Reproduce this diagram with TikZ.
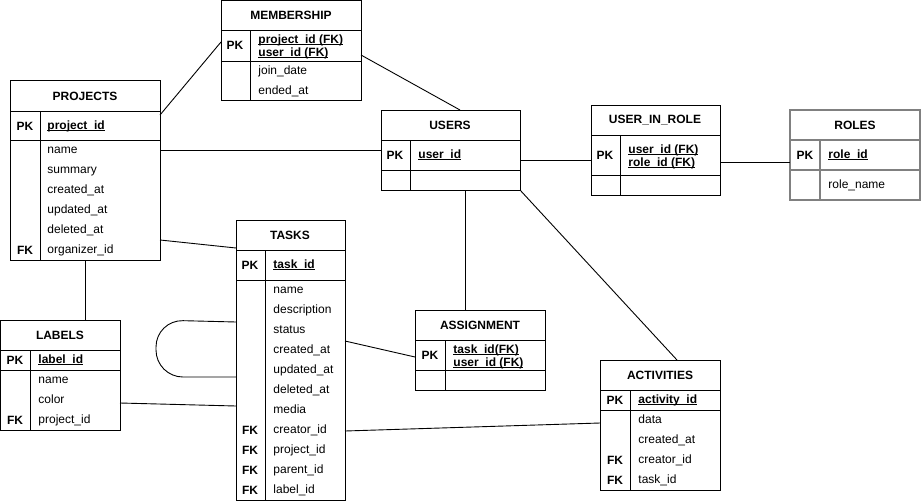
\documentclass[tikz,border=0pt]{standalone}
\usepackage{fontspec}
\setmainfont{Liberation Sans}
\newcommand\pkey[1]{\underline{\smash{#1}}}

\begin{document}
\begin{tikzpicture}[x=1pt,y=-1pt,line width=0.9pt]
  \tikzset{every node/.style={font=\fontsize{12}{13}\selectfont, inner sep=0pt},
    tbl/.style={draw, anchor=north west, outer sep=0pt},
    ttl/.style={font=\fontsize{12}{13}\selectfont\bfseries},
    key/.style={font=\fontsize{12}{13}\selectfont\bfseries},
    fld/.style={anchor=west, text height=9pt, text depth=3pt},
    pkf/.style={fld, font=\fontsize{12}{13}\selectfont\bfseries},
    pk2/.style={anchor=base west, align=left, font=\fontsize{12}{13}\selectfont\bfseries}}

  \useasboundingbox (0,0) rectangle (921,501);
  \fill[white] (0,0) rectangle (921,501);

  % membership
  \node[tbl, minimum width=140pt, minimum height=100pt] (membership) at (221,0) {};
  \draw (membership.west |- 0,30) -- (membership.east |- 0,30)
        (membership.west |- 0,61) -- (membership.east |- 0,61)
        (250,30) -- (membership.south -| 250,0);
  \node[ttl] (membership-t) at (291,15) {MEMBERSHIP};
  \node[key] (membership-k) at (235,45) {PK};
  \node[pk2] (membership-pk) at (258,56) {\pkey{project\_id (FK)}\\\pkey{user\_id (FK)}};
  \node[fld] (membership-1) at (258,71) {join\_date};
  \node[fld] (membership-2) at (258,91) {ended\_at};

  % projects
  \node[tbl, minimum width=150pt, minimum height=180pt] (projects) at (10,80) {};
  \draw (projects.west |- 0,111) -- (projects.east |- 0,111)
        (projects.west |- 0,140) -- (projects.east |- 0,140)
        (40,111) -- (projects.south -| 40,0);
  \node[ttl] (projects-t) at (85,96) {PROJECTS};
  \node[key] (projects-k) at (25,126) {PK};
  \node[pkf] (projects-pk) at (47,126) {\pkey{project\_id}};
  \foreach \f [count=\i] in {name,summary,created\_at,updated\_at,deleted\_at,organizer\_id}
    \node[fld] (projects-\i) at (47,130+20*\i) {\f};
  \node[key] (projects-fk) at (25,250) {FK};

  % users
  \node[tbl, minimum width=139pt, minimum height=80pt] (users) at (381,110) {};
  \draw (users.west |- 0,140) -- (users.east |- 0,140)
        (users.west |- 0,170) -- (users.east |- 0,170)
        (410,140) -- (users.south -| 410,0);
  \node[ttl] (users-t) at (450,125) {USERS};
  \node[key] (users-k) at (395,155) {PK};
  \node[pkf] (users-pk) at (418,155) {\pkey{user\_id}};

  % user_in_role
  \node[tbl, minimum width=129pt, minimum height=90pt] (userinrole) at (591,105) {};
  \draw (userinrole.west |- 0,135) -- (userinrole.east |- 0,135)
        (userinrole.west |- 0,175) -- (userinrole.east |- 0,175)
        (620,135) -- (userinrole.south -| 620,0);
  \node[ttl] (userinrole-t) at (655,120) {USER\_IN\_ROLE};
  \node[key] (userinrole-k) at (605,155) {PK};
  \node[pk2] (userinrole-pk) at (628,166) {\pkey{user\_id (FK)}\\\pkey{role\_id (FK)}};

  % roles
  \node[tbl, draw=gray, line width=1.5pt, minimum width=130pt, minimum height=90pt] (roles) at (790,110) {};
  \draw[gray, line width=1.5pt] (roles.west |- 0,140) -- (roles.east |- 0,140)
        (roles.west |- 0,170) -- (roles.east |- 0,170)
        (820,140) -- (roles.south -| 820,0);
  \node[ttl] (roles-t) at (855,125) {ROLES};
  \node[key] (roles-k) at (805,155) {PK};
  \node[pkf] (roles-pk) at (828,155) {\pkey{role\_id}};
  \node[fld] (roles-1) at (828,185) {role\_name};

  % tasks
  \node[tbl, minimum width=109pt, minimum height=280pt] (tasks) at (236,220) {};
  \draw (tasks.west |- 0,250) -- (tasks.east |- 0,250)
        (tasks.west |- 0,280) -- (tasks.east |- 0,280)
        (265,250) -- (tasks.south -| 265,0);
  \node[ttl] (tasks-t) at (290,235) {TASKS};
  \node[key] (tasks-k) at (250,265) {PK};
  \node[pkf] (tasks-pk) at (273,265) {\pkey{task\_id}};
  \foreach \f [count=\i] in {name,description,status,created\_at,updated\_at,deleted\_at,media,creator\_id,project\_id,parent\_id,label\_id}
    \node[fld] (tasks-\i) at (273,270+20*\i) {\f};
  \foreach \i in {8,...,11}
    \node[key] (tasks-fk\i) at (250,270+20*\i) {FK};

  % labels
  \node[tbl, minimum width=120pt, minimum height=110pt] (labels) at (0,320) {};
  \draw (labels.west |- 0,350) -- (labels.east |- 0,350)
        (labels.west |- 0,370) -- (labels.east |- 0,370)
        (30,350) -- (labels.south -| 30,0);
  \node[ttl] (labels-t) at (60,335) {LABELS};
  \node[key] (labels-k) at (15,360) {PK};
  \node[pkf] (labels-pk) at (38,360) {\pkey{label\_id}};
  \foreach \f [count=\i] in {name,color,project\_id}
    \node[fld] (labels-\i) at (38,360+20*\i) {\f};
  \node[key] (labels-fk) at (15,420) {FK};

  % assignment
  \node[tbl, minimum width=130pt, minimum height=80pt] (assignment) at (415,310) {};
  \draw (assignment.west |- 0,340) -- (assignment.east |- 0,340)
        (assignment.west |- 0,370) -- (assignment.east |- 0,370)
        (445,340) -- (assignment.south -| 445,0);
  \node[ttl] (assignment-t) at (480,325) {ASSIGNMENT};
  \node[key] (assignment-k) at (430,355) {PK};
  \node[pk2] (assignment-pk) at (453,366) {\pkey{task\_id(FK)}\\\pkey{user\_id (FK)}};

  % activities
  \node[tbl, minimum width=120pt, minimum height=130pt] (activities) at (600,360) {};
  \draw (activities.west |- 0,390) -- (activities.east |- 0,390)
        (activities.west |- 0,410) -- (activities.east |- 0,410)
        (630,390) -- (activities.south -| 630,0);
  \node[ttl] (activities-t) at (660,375) {ACTIVITIES};
  \node[key] (activities-k) at (615,400) {PK};
  \node[pkf] (activities-pk) at (638,400) {\pkey{activity\_id}};
  \foreach \f [count=\i] in {data,created\_at,creator\_id,task\_id}
    \node[fld] (activities-\i) at (638,400+20*\i) {\f};
  \node[key] (activities-fk1) at (615,460) {FK};
  \node[key] (activities-fk2) at (615,480) {FK};

  % relations
  \draw (projects.east |- 0,115) -- (membership.west |- 0,42);
  \draw (membership.east |- 0,55) -- (users.north -| 460,0);
  \draw (projects.east |- 0,150) -- (users.west |- 0,150);
  \draw (users.east |- 0,160) -- (userinrole.west |- 0,160);
  \draw (userinrole.east |- 0,162) -- (roles.west |- 0,162);
  \draw (users.south -| 465,0) -- (assignment.north -| 465,0);
  \draw (users.south east) -- (activities.north -| 677,0);
  \draw (projects.east |- 0,240) -- (tasks.west |- 0,248);
  \draw (projects.south -| 85,0) -- (labels.north -| 85,0);
  \draw (labels.east |- 0,403) -- (tasks.west |- 0,406);
  \draw (tasks.east |- 0,341) -- (assignment.west |- 0,357);
  \draw (tasks.east |- 0,431) -- (activities.west |- 0,423);
  \draw[rounded corners=27] (tasks.west |- 0,322) -- (156,320) -- (156,377) -- (tasks.west |- 0,377);
\end{tikzpicture}
\end{document}
